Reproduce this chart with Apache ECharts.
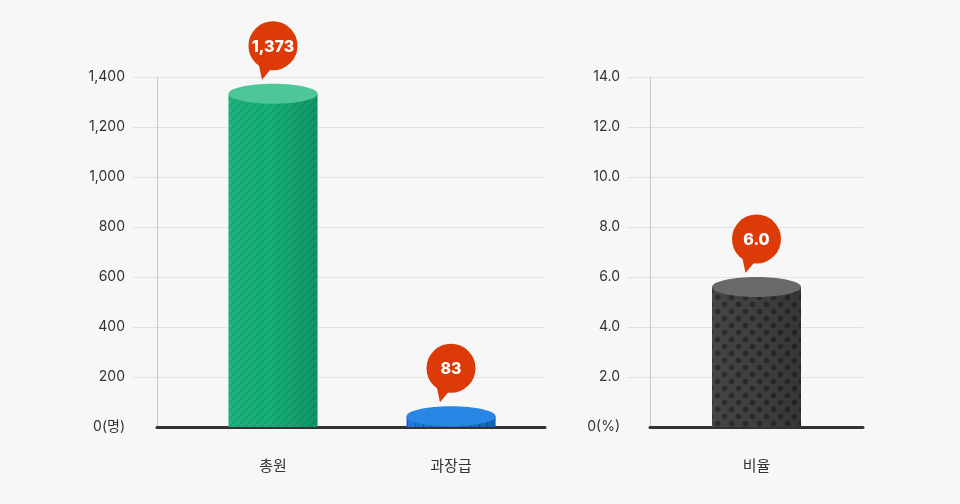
<!DOCTYPE html>
<html>
<head>
<meta charset="utf-8">
<script src="https://cdn.jsdelivr.net/npm/echarts@6/dist/echarts.min.js"></script>
<style>
  html, body { margin: 0; padding: 0; background: #f7f7f7; }
  #chart { width: 960px; height: 504px; }
</style>
</head>
<body>
<div id="chart"></div>
<script>
// data
var leftCategories = ['총원', '과장급'];
var leftValues = [1373, 83];
var leftTicks = [0, 200, 400, 600, 800, 1000, 1200, 1400];
var rightCategories = ['비율'];
var rightValues = [6.0];
var rightTicks = [0, 2, 4, 6, 8, 10, 12, 14];

var FONT = 'Inter, "Noto Sans CJK KR", sans-serif';

function makeTile(w, h, draw) {
	var c = document.createElement('canvas');
	c.width = w;
	c.height = h;
	draw(c.getContext('2d'));
	return { image: c, repeat: 'repeat' };
}

var stripePattern = makeTile(8, 8, function (ctx) {
	ctx.fillStyle = '#17b07a';
	ctx.fillRect(0, 0, 8, 8);
	ctx.strokeStyle = '#119e6a';
	ctx.lineWidth = 1.4;
	for (var k = -8; k <= 16; k += 8) {
		ctx.beginPath();
		ctx.moveTo(k, 8);
		ctx.lineTo(k + 8, 0);
		ctx.stroke();
	}
});

var linePattern = makeTile(8, 8, function (ctx) {
	ctx.fillStyle = '#1b72d8';
	ctx.fillRect(0, 0, 8, 8);
	ctx.fillStyle = '#0f57ad';
	ctx.fillRect(7, 0, 1, 8);
});

var dotPattern = makeTile(14, 14, function (ctx) {
	ctx.fillStyle = '#404040';
	ctx.fillRect(0, 0, 14, 14);
	ctx.fillStyle = '#2a2a2a';
	[[3.5, 3.5], [10.5, 10.5]].forEach(function (p) {
		ctx.beginPath();
		ctx.arc(p[0], p[1], 2.8, 0, Math.PI * 2);
		ctx.fill();
	});
});

var leftSkins = [
	{ body: stripePattern, top: '#4fc697' },
	{ body: linePattern, top: '#2a86e4' }
];
var rightSkins = [
	{ body: dotPattern, top: '#696969' }
];

function cylinderRenderer(skins, fmt) {
	return function (params, api) {
		var skin = skins[params.dataIndex];
		var val = api.value(1);
		var top = api.coord([api.value(0), val]);
		var base = api.coord([api.value(0), 0]);
		var w = 89, ry = 10;
		var cx = top[0];
		var cy = top[1] + ry;
		var h = Math.max(base[1] - cy, 0);
		var by = top[1] - 38;
		return {
			type: 'group',
			children: [
				{ type: 'rect', shape: { x: cx - w / 2, y: cy, width: w, height: h }, style: { fill: skin.body } },
				{
					type: 'rect', shape: { x: cx - w / 2, y: cy, width: w, height: h },
					style: {
						fill: new echarts.graphic.LinearGradient(0, 0, 1, 0, [
							{ offset: 0, color: 'rgba(255,255,255,0.04)' },
							{ offset: 0.45, color: 'rgba(0,0,0,0)' },
							{ offset: 1, color: 'rgba(0,0,0,0.16)' }
						])
					}
				},
				{ type: 'ellipse', shape: { cx: cx, cy: cy, rx: w / 2, ry: ry }, style: { fill: skin.top } },
				{ type: 'polygon', shape: { points: [[cx - 15, by + 15], [cx - 1, by + 22], [cx - 11, by + 34]] }, style: { fill: '#dc3a06' } },
				{ type: 'circle', shape: { cx: cx, cy: by, r: 24.5 }, style: { fill: '#dc3a06' } },
				{
					type: 'text', x: cx, y: by + 1,
					style: {
						text: fmt(val), fill: '#fff', align: 'center', verticalAlign: 'middle',
						font: '800 16px ' + FONT
					}
				}
			]
		};
	};
}

var axisLabelStyle = { color: '#333', fontSize: 14, fontFamily: FONT };
var catLabelStyle = { color: '#333', fontSize: 15, fontFamily: FONT, margin: 32 };

// value axis that only draws the grid lines and tick labels
function guideAxis(grid, max, ticks, fmt) {
	return {
		gridIndex: grid, type: 'value', min: 0, max: max, interval: ticks[1] - ticks[0],
		axisLine: { show: false }, axisTick: { show: false },
		splitLine: { showMinLine: false, lineStyle: { color: '#e2e2e2' } },
		axisLabel: Object.assign({ margin: 8, formatter: fmt }, axisLabelStyle)
	};
}

// value axis that only draws the vertical line
function frameAxis(grid, max) {
	return {
		gridIndex: grid, type: 'value', min: 0, max: max,
		axisLine: { show: true, lineStyle: { color: '#c9c9c9' } },
		axisTick: { show: false }, axisLabel: { show: false }, splitLine: { show: false }
	};
}

function hiddenCategory(grid, cats) {
	return { gridIndex: grid, type: 'category', data: cats, show: false };
}

var chart = echarts.init(document.getElementById('chart'));
chart.setOption({
	backgroundColor: '#f7f7f7',
	animation: false,
	grid: [
		{ left: 133, top: 77, width: 412, height: 350 },
		{ left: 157, top: 77, width: 388, height: 350 },
		{ left: 184, top: 77, width: 356, height: 350 },
		{ left: 628, top: 77, width: 235, height: 350 },
		{ left: 650, top: 77, width: 213, height: 350 }
	],
	xAxis: [
		hiddenCategory(0, leftCategories),
		{
			gridIndex: 1, type: 'category', data: leftCategories,
			axisLine: { lineStyle: { color: '#333', width: 3 } },
			axisTick: { show: false }, axisLabel: { show: false }
		},
		{
			gridIndex: 2, type: 'category', data: leftCategories,
			axisLine: { show: false }, axisTick: { show: false },
			axisLabel: catLabelStyle
		},
		hiddenCategory(3, rightCategories),
		{
			gridIndex: 4, type: 'category', data: rightCategories,
			axisLine: { lineStyle: { color: '#333', width: 3 } },
			axisTick: { show: false },
			axisLabel: catLabelStyle
		}
	],
	yAxis: [
		guideAxis(0, 1400, leftTicks, function (v) { return v === 0 ? '0(명)' : v.toLocaleString('en-US'); }),
		frameAxis(1, 1400),
		{ gridIndex: 2, type: 'value', min: 0, max: 1400, show: false },
		guideAxis(3, 14, rightTicks, function (v) { return v === 0 ? '0(%)' : v.toFixed(1); }),
		frameAxis(4, 14)
	],
	series: [
		{
			type: 'custom', xAxisIndex: 2, yAxisIndex: 2, clip: false, z: 5,
			encode: { x: 0, y: 1 },
			data: leftCategories.map(function (c, i) { return [c, leftValues[i]]; }),
			renderItem: cylinderRenderer(leftSkins, function (v) { return v.toLocaleString('en-US'); })
		},
		{
			type: 'custom', xAxisIndex: 4, yAxisIndex: 4, clip: false, z: 5,
			encode: { x: 0, y: 1 },
			data: rightCategories.map(function (c, i) { return [c, rightValues[i]]; }),
			renderItem: cylinderRenderer(rightSkins, function (v) { return v.toFixed(1); })
		}
	]
});
</script>
</body>
</html>
